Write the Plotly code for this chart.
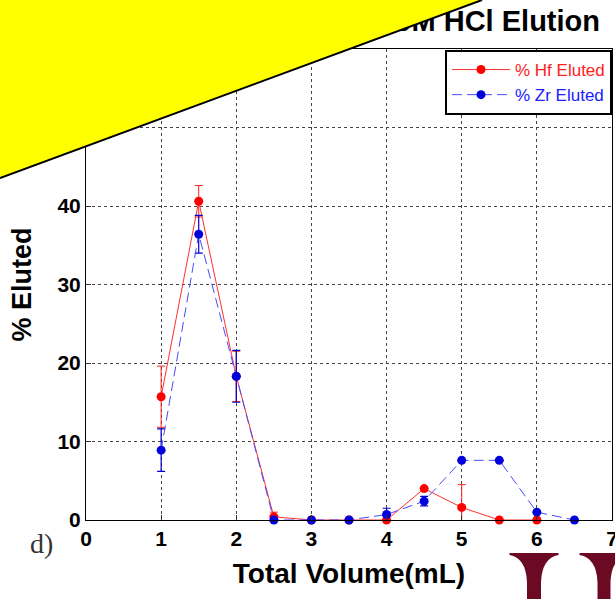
import plotly.graph_objects as go

# ---- data ----
hf_x = [1, 1.5, 2, 2.5, 3, 3.5, 4, 4.5, 5, 5.5, 6]
hf_y = [15.7, 40.6, 18.3, 0.4, 0, 0, 0, 4.0, 1.6, 0, 0]
hf_err = [3.9, 2.0, 3.2, 0.6, 0, 0, 0, 0, 2.9, 0, 0]

zr_x = [1, 1.5, 2, 2.5, 3, 3.5, 4, 4.5, 5, 5.5, 6, 6.5]
zr_y = [8.9, 36.4, 18.3, 0, 0, 0, 0.7, 2.4, 7.6, 7.6, 1.0, 0]
zr_err = [2.7, 2.4, 3.3, 0, 0, 0, 0.8, 0.6, 0, 0, 0, 0]

x_ticks = [0, 1, 2, 3, 4, 5, 6, 7]
y_ticks = [0, 10, 20, 30, 40, 50, 60]

title_text = "9M HCl Elution"
panel_label = "d)"

W, H = 615, 599
ML, MR, MT, MB = 86, 3, 0, 79
PW, PH = W - ML - MR, H - MT - MB   # paper region: 526 x 520
PLOT_TOP = 49                        # pixel row of y = 60


def px(xp):
    return (xp - ML) / PW


def py(yp):
    return (H - MB - yp) / PH


fig = go.Figure()

fig.add_trace(go.Scatter(
    x=hf_x, y=hf_y, mode="lines+markers",
    name="<span style='color:#ff2020'>% Hf Eluted</span>",
    line=dict(color="#ff3030", width=1),
    marker=dict(color="#ff0000", size=9, symbol="circle"),
    error_y=dict(type="data", array=hf_err, visible=True,
                 color="#ff2020", thickness=1, width=4),
    cliponaxis=False,
))
fig.add_trace(go.Scatter(
    x=zr_x, y=zr_y, mode="lines+markers",
    name="<span style='color:#2020ff'>% Zr Eluted</span>",
    line=dict(color="#4a4aff", width=1, dash="10px,5px"),
    marker=dict(color="#0000dd", size=9, symbol="circle"),
    error_y=dict(type="data", array=zr_err, visible=True,
                 color="#0000cc", thickness=1.2, width=4),
    cliponaxis=False,
))

# title drawn as a text trace on a hidden axis pair so the yellow overlay can cover it
fig.add_trace(go.Scatter(
    x=[px(600)], y=[py(24)],
    xaxis="x2", yaxis="y2",
    mode="text", text=[title_text], textposition="middle left",
    textfont=dict(family="Liberation Sans", size=29, color="black", weight="bold"),
    showlegend=False, cliponaxis=False, hoverinfo="skip",
))

axis_common = dict(
    showline=True, mirror=True, linecolor="black", linewidth=1,
    ticks="inside", ticklen=5, tickcolor="#333",
    showgrid=True, gridcolor="#444", griddash="dot", gridwidth=1,
    zeroline=False, automargin=False,
    tickfont=dict(family="Liberation Sans", size=21, color="black", weight="bold"),
)

fig.update_layout(
    xaxis=dict(range=[0, 7], tickvals=x_ticks, ticklabeloverflow="allow", **axis_common,
               title=dict(text="Total Volume(mL)", standoff=14,
                          font=dict(family="Liberation Sans", size=28,
                                    color="black", weight="bold"))),
    yaxis=dict(range=[0, 60], tickvals=y_ticks, domain=[0, py(PLOT_TOP)],
               ticklabeloverflow="allow", **axis_common,
               title=dict(text="% Eluted", standoff=17,
                          font=dict(family="Liberation Sans", size=27,
                                    color="black", weight="bold"))),
    xaxis2=dict(range=[0, 1], domain=[0, 1], visible=False, anchor="y2",
                automargin=False),
    yaxis2=dict(range=[0, 1], domain=[0, 1], visible=False, anchor="x2",
                automargin=False),
)

# yellow triangle overlay
tri = "M {},{} L {},{} L {},{} Z".format(px(0), py(0), px(482), py(0), px(0), py(178))
edge = "M {},{} L {},{}".format(px(0), py(178), px(482), py(0))


def logo_I(c, half_top, half_stem):
    l, r = c - half_top, c + half_top
    sl, sr = c - half_stem, c + half_stem
    s = "M {},{} L {},{} L {},{} ".format(px(l), py(553), px(r), py(553), px(r), py(555))
    s += "Q {},{} {},{} ".format(px(sr + 1), py(558), px(sr), py(582))
    s += "L {},{} L {},{} L {},{} ".format(px(sr), py(600), px(sl), py(600), px(sl), py(582))
    s += "Q {},{} {},{} Z".format(px(sl - 1), py(558), px(l), py(555))
    return s


shapes = [
    dict(type="path", path=tri, xref="paper", yref="paper",
         fillcolor="#ffff00", line=dict(width=0), layer="above"),
    dict(type="path", path=edge, xref="paper", yref="paper",
         line=dict(color="black", width=2), layer="above"),
    dict(type="path", path=logo_I(534, 24.5, 7), xref="paper", yref="paper",
         fillcolor="#6b0a22", line=dict(width=0), layer="above"),
    dict(type="path", path=logo_I(604, 24.5, 6.5), xref="paper", yref="paper",
         fillcolor="#6b0a22", line=dict(width=0), layer="above"),
]

fig.update_layout(
    width=W, height=H,
    margin=dict(l=ML, r=MR, t=MT, b=MB),
    paper_bgcolor="white", plot_bgcolor="rgba(0,0,0,0)",
    shapes=shapes,
    showlegend=True,
    legend=dict(x=1, y=py(50), xanchor="right", yanchor="top",
                bgcolor="white", bordercolor="black", borderwidth=2,
                font=dict(family="Liberation Sans", size=17),
                tracegroupgap=0, itemwidth=58),
    annotations=[dict(text=panel_label, xref="paper", yref="paper",
                      x=px(28), y=py(561), showarrow=False,
                      font=dict(family="Liberation Serif", size=28, color="#333"))],
)

fig.write_html("out.html")
